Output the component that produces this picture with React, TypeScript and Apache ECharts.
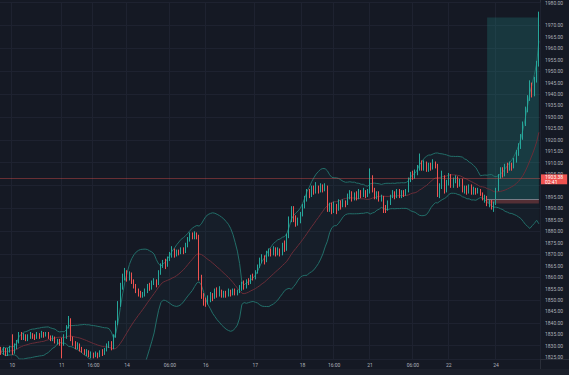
import React, { useEffect, useRef } from 'react';
import * as echarts from 'echarts';

// [open, close, low, high] per bar, read left to right
const candles: number[][] = [
  [1828, 1827, 1826, 1829.5], [1827, 1828.5, 1826, 1829.5], [1828.5, 1826.5, 1825.5, 1829], [1826.5, 1828, 1825.5, 1829],
  [1828, 1829, 1827, 1830], [1829, 1827.5, 1826, 1835], [1827.5, 1829.5, 1826.5, 1831], [1829.5, 1831.5, 1828.5, 1832.5],
  [1831.5, 1835, 1831, 1836], [1835, 1833.5, 1832.5, 1836], [1833.5, 1834.5, 1832.5, 1835.5], [1834.5, 1833, 1832, 1835],
  [1833, 1834, 1832, 1835], [1834, 1835, 1833, 1836], [1835, 1834, 1833, 1835.5], [1834, 1833.5, 1832.5, 1835],
  [1833.5, 1835, 1833, 1836], [1835, 1834, 1833, 1835.5], [1834, 1835.5, 1833.5, 1836.5], [1835.5, 1834.5, 1833.5, 1836],
  [1834.5, 1835, 1834, 1836], [1835, 1834, 1833, 1836], [1834, 1833, 1832, 1834.5], [1833, 1833.5, 1832, 1834.5],
  [1833.5, 1832, 1831, 1834], [1832, 1832.5, 1830.5, 1833], [1832.5, 1831.5, 1830, 1833], [1831.5, 1830.5, 1824.5, 1833.5],
  [1830.5, 1834, 1830, 1835], [1834, 1838, 1833, 1839], [1838, 1841.5, 1837.5, 1843], [1841.5, 1833, 1832, 1842],
  [1833, 1831, 1830, 1834], [1831, 1829.5, 1828.5, 1832], [1829.5, 1830.5, 1828.5, 1831.5], [1830.5, 1828.5, 1827.5, 1831],
  [1828.5, 1828, 1827, 1829.5], [1828, 1827, 1826, 1828.5], [1827, 1827.5, 1825.5, 1828.5], [1827.5, 1826, 1825, 1828],
  [1826, 1826.5, 1824.5, 1827.5], [1826.5, 1825.5, 1824.5, 1827], [1825.5, 1826.5, 1825, 1827.5], [1826.5, 1825.5, 1824.5, 1827],
  [1825.5, 1827, 1825, 1828], [1827, 1826.5, 1825.5, 1828.5], [1826.5, 1828, 1826, 1829], [1828, 1830, 1827.5, 1831],
  [1830, 1831, 1829, 1832], [1831, 1829, 1828, 1832], [1829, 1834, 1828.5, 1835], [1834, 1840, 1833.5, 1841],
  [1840, 1848, 1839, 1849.5], [1848, 1856, 1847, 1857.5], [1856, 1860, 1854.5, 1861.5], [1860, 1862, 1858.5, 1864],
  [1862, 1860, 1858, 1863], [1860, 1861.5, 1858.5, 1862.5], [1861.5, 1858, 1857, 1862], [1858, 1856, 1855, 1859],
  [1856, 1854, 1853, 1857], [1854, 1853, 1851.5, 1855], [1853, 1852, 1851, 1854], [1852, 1852.5, 1851, 1853.5],
  [1852.5, 1854, 1851.5, 1855], [1854, 1856, 1853, 1857], [1856, 1855, 1854, 1857.5], [1855, 1857.5, 1854.5, 1858.5],
  [1857.5, 1858, 1856.5, 1859.5], [1858, 1857, 1855.5, 1859], [1857, 1862, 1856.5, 1863], [1862, 1865, 1861, 1866],
  [1865, 1866, 1864, 1867.5], [1866, 1865, 1863.5, 1868], [1865, 1868, 1864.5, 1869], [1868, 1869.5, 1867, 1871],
  [1869.5, 1871.5, 1868.5, 1873.5], [1871.5, 1870, 1868.5, 1872.5], [1870, 1871, 1869, 1872], [1871, 1870.5, 1869.5, 1872],
  [1870.5, 1872, 1870, 1873], [1872, 1871, 1870, 1873], [1871, 1874, 1870.5, 1875], [1874, 1876.5, 1873, 1877.5],
  [1876.5, 1878.5, 1875.5, 1879.5], [1878.5, 1877.5, 1876.5, 1879.5], [1877.5, 1879, 1876.5, 1880], [1879, 1878, 1876.5, 1879.5],
  [1878, 1860, 1858.5, 1878.5], [1860, 1852, 1850.5, 1861], [1852, 1849.5, 1847.5, 1853], [1849.5, 1848.5, 1847, 1851],
  [1848.5, 1850.5, 1848, 1852], [1850.5, 1852, 1849, 1853.5], [1852, 1851, 1849.5, 1853], [1851, 1853.5, 1850.5, 1855],
  [1853.5, 1852.5, 1851, 1855.5], [1852.5, 1854, 1851.5, 1856], [1854, 1852, 1851, 1854.5], [1852, 1853, 1851, 1854],
  [1853, 1852, 1851, 1854], [1852, 1853.5, 1851.5, 1855], [1853.5, 1852.5, 1851.5, 1854.5], [1852.5, 1854, 1852, 1855],
  [1854, 1853, 1852, 1855], [1853, 1853.5, 1852, 1854.5], [1853.5, 1855, 1853, 1856.5], [1855, 1857, 1854, 1858],
  [1857, 1855.5, 1854.5, 1858.5], [1855.5, 1858, 1855, 1859], [1858, 1857.5, 1856.5, 1859.5], [1857.5, 1860, 1857, 1861],
  [1860, 1859.5, 1858.5, 1861.5], [1859.5, 1862, 1859, 1863], [1862, 1864.5, 1861.5, 1865.5], [1864.5, 1867, 1864, 1868.5],
  [1867, 1868.5, 1866, 1870], [1868.5, 1867, 1865.5, 1869.5], [1867, 1870, 1866.5, 1871.5], [1870, 1871.5, 1869, 1872.5],
  [1871.5, 1870, 1869, 1872.5], [1870, 1872, 1869.5, 1873.5], [1872, 1870.5, 1869, 1873], [1870.5, 1871.5, 1869.5, 1873],
  [1871.5, 1870, 1869, 1872.5], [1870, 1874, 1869.5, 1875], [1874, 1872, 1871, 1876], [1872, 1878, 1871.5, 1879],
  [1878, 1885, 1877, 1886.5], [1885, 1889.5, 1884, 1891], [1889.5, 1885, 1884, 1891], [1885, 1883.5, 1882, 1887],
  [1883.5, 1884.5, 1882.5, 1886], [1884.5, 1887, 1883.5, 1888.5], [1887, 1891, 1886.5, 1892], [1891, 1894, 1890, 1895.5],
  [1894, 1897, 1893, 1898.5], [1897, 1895.5, 1894.5, 1898.5], [1895.5, 1898.5, 1895, 1900], [1898.5, 1897.5, 1896, 1900],
  [1897.5, 1899, 1896.5, 1901.5], [1899, 1897.5, 1896.5, 1900], [1897.5, 1899.5, 1897, 1901], [1899.5, 1898, 1897, 1900.5],
  [1898, 1899.5, 1897.5, 1901], [1899.5, 1890, 1888.5, 1900], [1890, 1891.5, 1888.5, 1892.5], [1891.5, 1889, 1887.5, 1892.5],
  [1889, 1891, 1888, 1893], [1891, 1890, 1887.5, 1892], [1890, 1892.5, 1889, 1894], [1892.5, 1891, 1889.5, 1893.5],
  [1891, 1893, 1890.5, 1894], [1893, 1892, 1890.5, 1893.5], [1892, 1895, 1891.5, 1896.5], [1895, 1896.5, 1894, 1898],
  [1896.5, 1894.5, 1893, 1897.5], [1894.5, 1896, 1893.5, 1897], [1896, 1894.5, 1893.5, 1897.5], [1894.5, 1897, 1894, 1898.5],
  [1897, 1896, 1894.5, 1898], [1896, 1897.5, 1895, 1899], [1897.5, 1895.5, 1894.5, 1898], [1895.5, 1897, 1895, 1898.5],
  [1897, 1903, 1896.5, 1907.5], [1903, 1898, 1897, 1904.5], [1898, 1895, 1894, 1899], [1895, 1896.5, 1894, 1897.5],
  [1896.5, 1894, 1893, 1897.5], [1894, 1895, 1893, 1896], [1895, 1890, 1888, 1895.5], [1890, 1889.5, 1888, 1891.5],
  [1889.5, 1892.5, 1889, 1893.5], [1892.5, 1895, 1891.5, 1896], [1895, 1896.5, 1894.5, 1898], [1896.5, 1895, 1894, 1897.5],
  [1895, 1897.5, 1894.5, 1898.5], [1897.5, 1895.5, 1894.5, 1898.5], [1895.5, 1897, 1894.5, 1898], [1897, 1896, 1895, 1898],
  [1896, 1897.5, 1895.5, 1898.5], [1897.5, 1902, 1897, 1903.5], [1902, 1905, 1901.5, 1906], [1905, 1904, 1902.5, 1906.5],
  [1904, 1905.5, 1903, 1907], [1905.5, 1907.5, 1904.5, 1909], [1907.5, 1910, 1906.5, 1914], [1910, 1907.5, 1906.5, 1911],
  [1907.5, 1909.5, 1906.5, 1911], [1909.5, 1907, 1906, 1910.5], [1907, 1908.5, 1906, 1910], [1908.5, 1907.5, 1906.5, 1910],
  [1907.5, 1909.5, 1907, 1911.5], [1909.5, 1908.5, 1907.5, 1910.5], [1908.5, 1896, 1895, 1909.5], [1896, 1899.5, 1894.5, 1901],
  [1899.5, 1903.5, 1898.5, 1906.5], [1903.5, 1898, 1896.5, 1904.5], [1898, 1901, 1897, 1902.5], [1901, 1904, 1900, 1905.5],
  [1904, 1900, 1899, 1905], [1900, 1902, 1899, 1903.5], [1902, 1903.5, 1901, 1904.5], [1903.5, 1900, 1899, 1904],
  [1900, 1902, 1899.5, 1903], [1902, 1898, 1897, 1903], [1898, 1899, 1896.5, 1900], [1899, 1897.5, 1896, 1900],
  [1897.5, 1899.5, 1896.5, 1900.5], [1899.5, 1897, 1896, 1900.5], [1897, 1898.5, 1896, 1899.5], [1898.5, 1897, 1896, 1899],
  [1897, 1898, 1896.5, 1899], [1898, 1896.5, 1895.5, 1898.5], [1896.5, 1894.5, 1893.5, 1897], [1894.5, 1895, 1892.5, 1896],
  [1895, 1892, 1891, 1895.5], [1892, 1893, 1890.5, 1894], [1893, 1891.5, 1889.5, 1894], [1891.5, 1892, 1888.5, 1893],
  [1892, 1898, 1891.5, 1899], [1898, 1904, 1897.5, 1905], [1904, 1906.5, 1903, 1908], [1906.5, 1905, 1903.5, 1908],
  [1905, 1908.5, 1904, 1909.5], [1908.5, 1907, 1905.5, 1910], [1907, 1909, 1906.5, 1910.5], [1909, 1908, 1906.5, 1910],
  [1908, 1911, 1907.5, 1912], [1911, 1914, 1910, 1915.5], [1914, 1917, 1913, 1918.5], [1917, 1921, 1916, 1922.5],
  [1921, 1927, 1920, 1928], [1927, 1933, 1926, 1934.5], [1933, 1938, 1932, 1939.5], [1938, 1943.5, 1937, 1946],
  [1943.5, 1940, 1938.5, 1945], [1940, 1946, 1939, 1947.5], [1946, 1953, 1945, 1954.5], [1953, 1975.77, 1952, 1976],
];

// time-axis tick labels and the bar index they sit on
const tickIndex = [5, 27, 41, 56, 75, 91, 113, 134, 148, 164, 183, 199, 220];
const tickText = ['10', '11', '16:00', '14', '06:00', '16', '17', '18', '16:00', '21', '06:00', '22', '24'];

// price levels
const lastPrice = 1975.77;
const targetPrice = 1973.41;
const redLevel = 1903.38;
const redLevelTimer = '02:41';
const entryPrice = 1893.91;
const stopPrice = 1892.2;
const positionStart = 216;
const positionEnd = 239;
// price-scale labels hidden behind the price tags
const hiddenPriceLabels = [1975, 1900];

const yMin = 1824.2;
const yMax = 1980;

const FONT = 'Roboto, "Noto Sans", sans-serif';
const UP = '#26a69a';
const DOWN = '#ef5350';
const TXT = '#aeb1ba';
const GRID = '#1e2230';
const SEP = '#2a2e39';

export default function App() {
  const ref = useRef<HTMLDivElement>(null);
  useEffect(() => {
    const chart = echarts.init(ref.current!, null, { renderer: 'svg' });
    const closes = candles.map((c) => c[1]);
    const basis: number[] = [];
    const upper: number[] = [];
    const lower: number[] = [];
    const width: number[] = [];
    for (let i = 0; i < closes.length; i++) {
      const s = Math.max(0, i - 19);
      const w = closes.slice(s, i + 1);
      const m = w.reduce((a, b) => a + b, 0) / w.length;
      const sd = Math.sqrt(w.reduce((a, b) => a + (b - m) * (b - m), 0) / w.length);
      basis.push(m);
      upper.push(m + 2 * sd);
      lower.push(m - 2 * sd);
      width.push(4 * sd);
    }
    const categories = candles.map((_, i) => String(i));
    const tickMap = new Map<number, string>(tickIndex.map((i, k) => [i, tickText[k]]));
    const tag = (bg: string, lh: number, offsetY: number) => ({
      show: true,
      position: 'end',
      distance: 1,
      color: '#ffffff',
      backgroundColor: bg,
      fontSize: 5,
      lineHeight: lh,
      padding: [0.5, 4, 0, 4],
      fontFamily: FONT,
      offset: [0, offsetY],
    });
    chart.setOption({
      animation: false,
      backgroundColor: '#151924',
      grid: { left: 0, right: 29, top: -1, bottom: 16 },
      xAxis: {
        type: 'category',
        data: categories,
        boundaryGap: true,
        axisLine: { show: false },
        axisTick: { show: false },
        axisLabel: {
          interval: (i: number) => tickMap.has(i),
          formatter: (_v: string, i: number) => tickMap.get(i) ?? '',
          color: TXT,
          fontSize: 5,
          margin: 3,
          fontFamily: FONT,
        },
        splitLine: { show: true, interval: (i: number) => tickMap.has(i), lineStyle: { color: GRID, width: 1 } },
      },
      yAxis: [
        {
          type: 'value',
          position: 'right',
          min: yMin,
          max: yMax,
          splitNumber: 31,
          axisLine: { show: false },
          axisTick: { show: false },
          splitLine: { show: false },
          axisLabel: {
            color: TXT,
            fontSize: 5,
            margin: 5,
            fontFamily: FONT,
            formatter: (v: number) => {
              const onTick = Math.abs(v / 5 - Math.round(v / 5)) < 1e-6;
              if (!onTick) return '';
              if (hiddenPriceLabels.some((h) => Math.abs(h - v) < 1e-6)) return '';
              return v.toFixed(2);
            },
          },
        },
        {
          type: 'value',
          position: 'right',
          min: yMin,
          max: yMax,
          splitNumber: 15,
          axisLine: { show: false },
          axisTick: { show: false },
          axisLabel: { show: false },
          splitLine: { show: true, lineStyle: { color: GRID, width: 1 } },
        },
      ],
      series: [
        {
          type: 'line', data: lower, stack: 'bb', symbol: 'none', silent: true, z: 1,
          lineStyle: { opacity: 0 },
        },
        {
          type: 'line', data: width, stack: 'bb', symbol: 'none', silent: true, z: 1,
          lineStyle: { opacity: 0 },
          areaStyle: { color: 'rgba(38,166,154,0.06)' },
        },
        { type: 'line', data: upper, symbol: 'none', silent: true, z: 2, lineStyle: { color: '#236e69', width: 1 } },
        { type: 'line', data: lower, symbol: 'none', silent: true, z: 2, lineStyle: { color: '#236e69', width: 1 } },
        { type: 'line', data: basis, symbol: 'none', silent: true, z: 2, lineStyle: { color: '#6a2d38', width: 1 } },
        {
          type: 'candlestick',
          data: candles,
          barWidth: 0.7,
          z: 3,
          itemStyle: { color: UP, color0: DOWN, borderColor: UP, borderColor0: DOWN, borderWidth: 1 },
          markArea: {
            silent: true,
            data: [
              [
                { xAxis: positionStart, yAxis: entryPrice, itemStyle: { color: 'rgba(38,166,154,0.22)' } },
                { xAxis: positionEnd, yAxis: targetPrice },
              ],
              [
                { xAxis: positionStart, yAxis: stopPrice, itemStyle: { color: 'rgba(239,83,80,0.3)' } },
                { xAxis: positionEnd, yAxis: entryPrice },
              ],
            ],
          },
          markLine: {
            silent: true,
            symbol: ['none', 'none'],
            lineStyle: { type: 'solid', width: 1 },
            data: [
              { yAxis: lastPrice, lineStyle: { opacity: 0 }, label: { ...tag(UP, 5, -1), formatter: lastPrice.toFixed(2) } },
              { yAxis: targetPrice, lineStyle: { opacity: 0 }, label: { ...tag(UP, 5, 0.5), formatter: targetPrice.toFixed(2) } },
              {
                yAxis: redLevel,
                lineStyle: { color: 'rgba(239,83,80,0.38)', width: 1 },
                label: { ...tag(DOWN, 4.7, 1.5), formatter: redLevel.toFixed(2) + '\n' + redLevelTimer },
              },
              { yAxis: entryPrice, lineStyle: { opacity: 0 }, label: { ...tag('#787b86', 4.3, -0.3), formatter: entryPrice.toFixed(2) } },
              { yAxis: stopPrice, lineStyle: { opacity: 0 }, label: { ...tag(DOWN, 4.3, 0.5), formatter: stopPrice.toFixed(2) } },
              [
                { xAxis: positionStart, yAxis: entryPrice, lineStyle: { color: '#787b86', width: 1 }, label: { show: false } },
                { xAxis: positionEnd, yAxis: entryPrice },
              ],
            ],
          },
        },
      ],
      graphic: [
        { type: 'rect', shape: { x: 0, y: 369, width: 569, height: 6 }, style: { fill: '#1c202b' }, silent: true },
        { type: 'line', shape: { x1: 540.5, y1: 0, x2: 540.5, y2: 375 }, style: { stroke: SEP, lineWidth: 1 }, silent: true, z: -1 },
        { type: 'line', shape: { x1: 0, y1: 359.5, x2: 569, y2: 359.5 }, style: { stroke: SEP, lineWidth: 1 }, silent: true },
      ],
    });
    return () => chart.dispose();
  }, []);
  return <div ref={ref} style={{ position: 'fixed', left: 0, top: 0, width: 569, height: 375 }} />;
}
